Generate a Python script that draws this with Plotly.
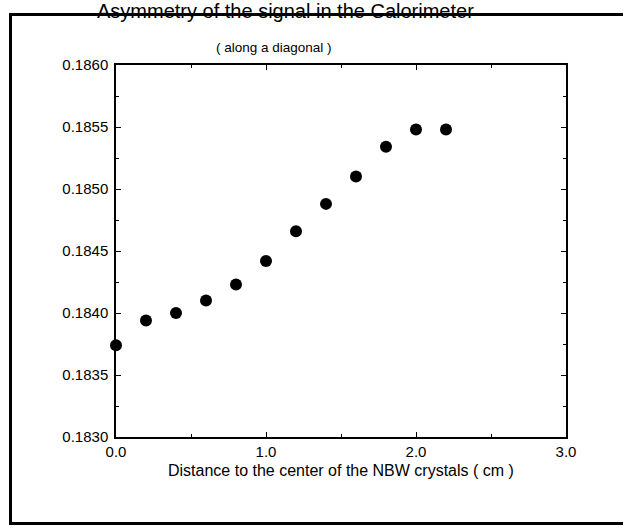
import plotly.graph_objects as go

# Measured asymmetry along a diagonal of the calorimeter
distance_cm = [0.0, 0.2, 0.4, 0.6, 0.8, 1.0, 1.2, 1.4, 1.6, 1.8, 2.0, 2.2]
asymmetry = [0.18374, 0.18394, 0.18400, 0.18410, 0.18423, 0.18442,
             0.18466, 0.18488, 0.18510, 0.18534, 0.18548, 0.18548]

title_text = "Asymmetry of the signal in the Calorimeter"
subtitle_text = "( along a diagonal )"
xlabel_text = "Distance to the center of the NBW crystals ( cm )"

FONT = "Liberation Sans, Arial, Helvetica, sans-serif"

W, H = 625, 529
L, R, T, B = 116, 59, 65, 92
PW, PH = W - L - R, H - T - B


def px_x(p):
    return (p - L) / PW


def px_y(p):
    return (H - B - p) / PH


fig = go.Figure()
fig.add_trace(go.Scatter(
    x=distance_cm, y=asymmetry, mode="markers",
    marker=dict(color="black", size=12, line=dict(width=0)),
    cliponaxis=False, showlegend=False,
))

axis_common = dict(
    showgrid=False, zeroline=False, showline=True, linecolor="black",
    linewidth=1.5, mirror="ticks", ticks="inside", ticklen=5,
    tickwidth=1, tickcolor="black",
    tickfont=dict(family=FONT, size=15, color="black"),
)

fig.update_xaxes(
    range=[0, 3], tickvals=[0, 1, 2, 3], ticktext=["0.0", "1.0", "2.0", "3.0"],
    minor=dict(dtick=0.5, ticks="inside", ticklen=3, tickcolor="black"),
    **axis_common,
)
fig.update_yaxes(
    range=[0.1830, 0.1860], dtick=0.0005, tickformat=".4f",
    minor=dict(dtick=0.00025, ticks="inside", ticklen=3, tickcolor="black"),
    ticklabelstandoff=3,
    **axis_common,
)

annotations = [
    dict(text=title_text, x=px_x(285), y=px_y(11), xref="paper", yref="paper",
         showarrow=False, xanchor="center", yanchor="middle",
         font=dict(family=FONT, size=20, color="black")),
    dict(text=subtitle_text, x=px_x(274), y=px_y(47), xref="paper", yref="paper",
         showarrow=False, xanchor="center", yanchor="middle",
         font=dict(family=FONT, size=13.5, color="black")),
    dict(text=xlabel_text, x=px_x(341), y=px_y(471), xref="paper", yref="paper",
         showarrow=False, xanchor="center", yanchor="middle",
         font=dict(family=FONT, size=16, color="black")),
]

# Outer frame, open towards the right edge of the page
frame_style = dict(color="black", width=3)
frame = [
    dict(type="line", xref="paper", yref="paper",
         x0=px_x(9), x1=px_x(623), y0=px_y(14.5), y1=px_y(14.5),
         line=frame_style, layer="below"),
    dict(type="line", xref="paper", yref="paper",
         x0=px_x(10.5), x1=px_x(10.5), y0=px_y(13), y1=px_y(525),
         line=frame_style, layer="below"),
    dict(type="line", xref="paper", yref="paper",
         x0=px_x(9), x1=px_x(623), y0=px_y(523.5), y1=px_y(523.5),
         line=frame_style, layer="below"),
]

fig.update_layout(
    width=W, height=H,
    margin=dict(l=L, r=R, t=T, b=B),
    paper_bgcolor="white", plot_bgcolor="white",
    annotations=annotations, shapes=frame,
    font=dict(family=FONT, color="black"),
)

fig.write_html("out.html")
